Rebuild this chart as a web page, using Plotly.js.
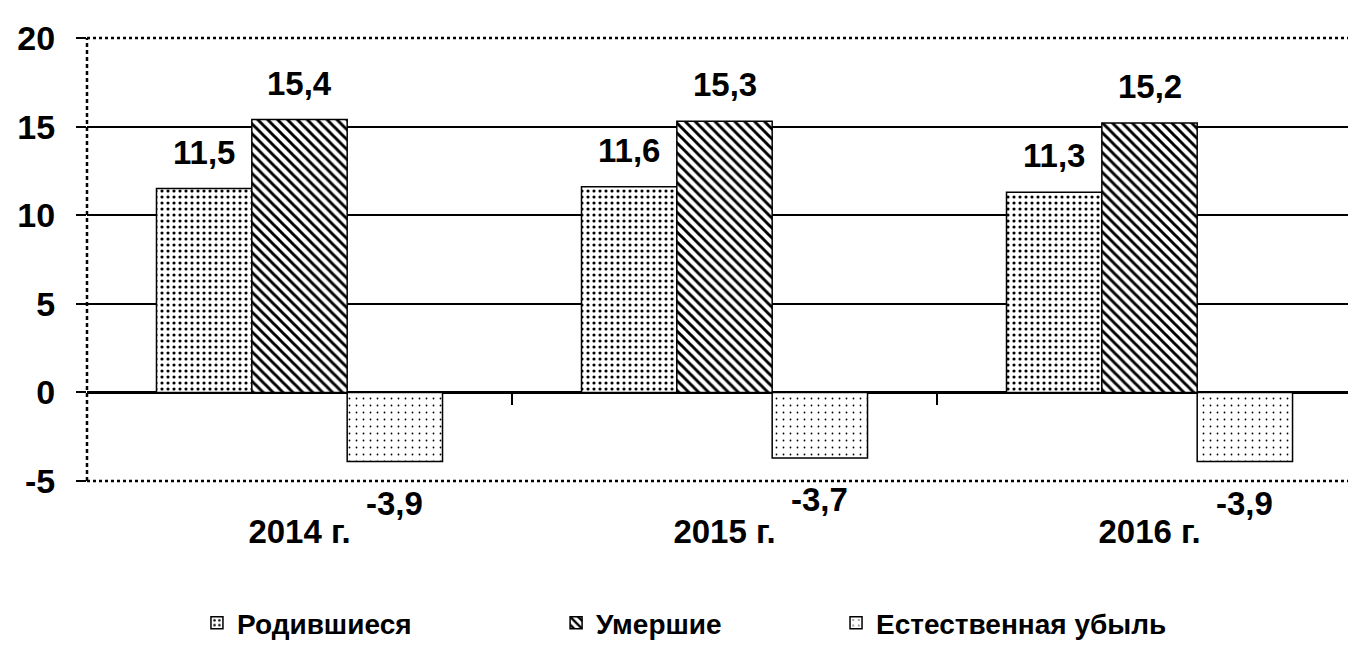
<!DOCTYPE html>
<html>
<head>
<meta charset="utf-8">
<script src="https://cdn.plot.ly/plotly-3.0.1.min.js"></script>
<style>html,body{margin:0;padding:0;background:#fff;}#chart{width:1348px;height:648px;}</style>
</head>
<body>
<div id="chart"></div>
<script>
const categories = ['2014 г.', '2015 г.', '2016 г.'];
const births = [11.5, 11.6, 11.3];
const deaths = [15.4, 15.3, 15.2];
const naturalLoss = [-3.9, -3.7, -3.9];
const seriesNames = ['Родившиеся', 'Умершие', 'Естественная убыль'];
const yTicks = [-5, 0, 5, 10, 15, 20];

const FONT = 'Liberation Sans, Arial, sans-serif';
const bargap = 0.327;
const xRange = [-0.5, 2.467];
const yRange = [-5, 20];

const patterns = [
  {shape: '.', size: 6, solidity: 0.22, fgcolor: '#000', bgcolor: '#fff'},
  {shape: '\\', size: 7, solidity: 0.42, fgcolor: '#000', bgcolor: '#fff'},
  {shape: '.', size: 7, solidity: 0.05, fgcolor: '#000', bgcolor: '#fff'}
];
const seriesData = [births, deaths, naturalLoss];

const traces = seriesData.map((vals, s) => ({
  type: 'bar',
  name: seriesNames[s],
  x: categories,
  y: vals,
  legend: s === 0 ? 'legend' : 'legend' + (s + 1),
  marker: {color: '#fff', pattern: patterns[s], line: {color: '#000', width: 1.5}},
  hoverinfo: 'x+y'
}));
// carrier trace so the zero-line category-boundary tick axis is drawn
traces.push({type: 'scatter', mode: 'markers', x: [0], y: [null], xaxis: 'x2', yaxis: 'y',
  showlegend: false, hoverinfo: 'skip'});

const fmt = v => v.toFixed(1).replace('.', ',');
const annotations = [];
seriesData.forEach((vals, s) => {
  const off = (s - 1) * (1 - bargap) / 3;
  vals.forEach((v, i) => {
    annotations.push({
      x: i + off, y: v, xref: 'x', yref: 'y',
      text: fmt(v), showarrow: false,
      xanchor: 'center',
      yanchor: v >= 0 ? 'bottom' : 'top',
      yshift: v >= 0 ? 16 : -21,
      font: {family: FONT, size: 33, color: '#000', weight: 'bold'}
    });
  });
});

const borderShapes = [
  {type: 'line', xref: 'paper', yref: 'paper', x0: 0, x1: 1, y0: 1, y1: 1, line: {color: '#fff', width: 3}},
  {type: 'line', xref: 'paper', yref: 'paper', x0: 0, x1: 1, y0: 0, y1: 0, line: {color: '#fff', width: 3}},
  {type: 'line', xref: 'paper', yref: 'paper', x0: 0, x1: 1, y0: 1, y1: 1, line: {color: '#000', width: 2.5, dash: 'dot'}},
  {type: 'line', xref: 'paper', yref: 'paper', x0: 0, x1: 1, y0: 0, y1: 0, line: {color: '#000', width: 2.5, dash: 'dot'}},
  {type: 'line', xref: 'paper', yref: 'paper', x0: 0, x1: 0, y0: 0, y1: 1, line: {color: '#000', width: 2.5, dash: '4px,3px'}}
];

const legendBase = {
  orientation: 'h', yanchor: 'middle', y: -0.321, xanchor: 'left',
  font: {family: FONT, size: 28, color: '#000', weight: 'bold'},
  bgcolor: 'rgba(0,0,0,0)'
};

const layout = {
  width: 1348, height: 648,
  margin: {l: 87, r: 0, t: 38, b: 165},
  paper_bgcolor: '#fff', plot_bgcolor: '#fff',
  separators: ', ',
  barmode: 'group', bargap: bargap, bargroupgap: 0,
  font: {family: FONT, color: '#000'},
  showlegend: true,
  legend: Object.assign({}, legendBase, {x: 0.0872}),
  legend2: Object.assign({}, legendBase, {x: 0.372}),
  legend3: Object.assign({}, legendBase, {x: 0.594}),
  xaxis: {
    type: 'category', range: xRange, showgrid: false, zeroline: false, showline: false,
    ticks: '', ticklabelstandoff: 28,
    tickfont: {family: FONT, size: 33, color: '#000', weight: 'bold'}
  },
  xaxis2: {
    overlaying: 'x', anchor: 'free', side: 'bottom',
    position: (0 - yRange[0]) / (yRange[1] - yRange[0]),
    type: 'linear', range: xRange, tickvals: categories.slice(1).map((_, i) => i + 0.5),
    ticks: 'outside', ticklen: 12, tickwidth: 2, tickcolor: '#000',
    showticklabels: false, showgrid: false, zeroline: false, showline: false
  },
  yaxis: {
    range: yRange, tickvals: yTicks, ticktext: yTicks.map(String),
    showgrid: true, gridcolor: '#000', gridwidth: 2,
    zeroline: true, zerolinecolor: '#000', zerolinewidth: 2.5,
    showline: false, ticks: 'outside', ticklen: 10, tickwidth: 2, tickcolor: '#000',
    ticklabelstandoff: 14,
    tickfont: {family: FONT, size: 34, color: '#000', weight: 'bold'}
  },
  annotations: annotations,
  shapes: borderShapes
};

Plotly.newPlot('chart', traces, layout, {displayModeBar: false, responsive: false});
</script>
</body>
</html>
